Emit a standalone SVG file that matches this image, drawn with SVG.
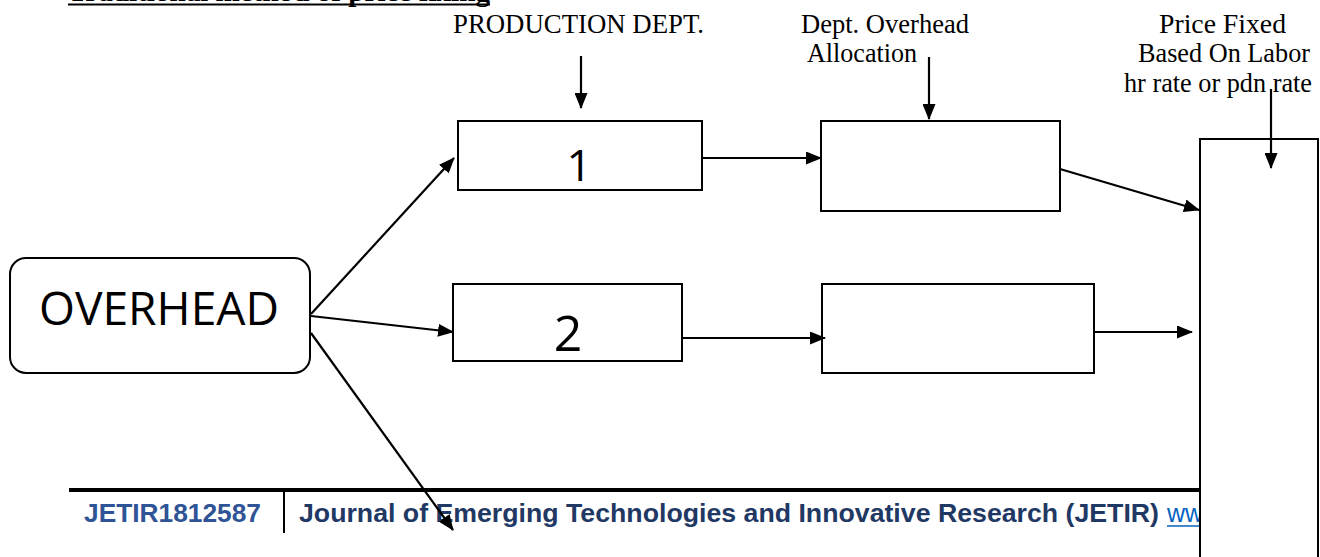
<svg xmlns="http://www.w3.org/2000/svg" width="1320" height="557" viewBox="0 0 1320 557">
<style>
.box{fill:#fff;stroke:#000;stroke-width:2}
.lbl{font-family:"Liberation Serif","Times New Roman",serif;font-size:26.5px;fill:#000}
.big{font-family:"Open Sans","Noto Sans",sans-serif;fill:#000}
.conn{stroke:#000;stroke-width:2.2;fill:none;marker-end:url(#ah)}
.foot{font-family:"Liberation Sans",Arial,sans-serif;font-weight:bold;font-size:25px}
</style>
<defs>
<marker id="ah" viewBox="0 0 16 13" refX="15" refY="6.5" markerWidth="16" markerHeight="13" markerUnits="userSpaceOnUse" orient="auto">
<path d="M0,0 L16,6.5 L0,13 z" fill="#000"/>
</marker>
</defs>
<rect width="1320" height="557" fill="#fff"/>
<g id="title">
<text x="68" y="1" font-family="Liberation Serif,serif" font-weight="bold" font-size="27" textLength="422" lengthAdjust="spacingAndGlyphs">Traditional method of price fixing</text>
<line x1="68" y1="4.5" x2="490" y2="4.5" stroke="#000" stroke-width="2"/>
</g>
<g id="footer">
<line x1="69" y1="490" x2="1199" y2="490" stroke="#000" stroke-width="4"/>
<line x1="284" y1="490" x2="284" y2="533" stroke="#000" stroke-width="2"/>
<text class="foot" x="84" y="522" fill="#2F5496" textLength="177" lengthAdjust="spacingAndGlyphs">JETIR1812587</text>
<text class="foot" x="299" y="522" fill="#1F3864" textLength="860" lengthAdjust="spacingAndGlyphs">Journal of Emerging Technologies and Innovative Research (JETIR)</text>
<text x="1167" y="522" font-family="Liberation Sans,Arial,sans-serif" font-size="25" fill="#0563C1">ww</text>
<line x1="1167" y1="526" x2="1199" y2="526" stroke="#0563C1" stroke-width="1.5"/>
</g>
<g id="labels">
<text class="lbl" x="453" y="33" textLength="251" lengthAdjust="spacingAndGlyphs">PRODUCTION DEPT.</text>
<text class="lbl" x="801" y="33" textLength="168" lengthAdjust="spacingAndGlyphs">Dept. Overhead</text>
<text class="lbl" x="807" y="62" textLength="110" lengthAdjust="spacingAndGlyphs">Allocation</text>
<text class="lbl" x="1159" y="33" textLength="127" lengthAdjust="spacingAndGlyphs">Price Fixed</text>
<text class="lbl" x="1138" y="62" textLength="172" lengthAdjust="spacingAndGlyphs">Based On Labor</text>
<text class="lbl" x="1124" y="92" textLength="188" lengthAdjust="spacingAndGlyphs">hr rate or pdn rate</text>
</g>
<g id="overhead">
<rect class="box" x="10" y="258" width="300" height="115" rx="16"/>
<text class="big" x="39" y="325" font-size="45" textLength="240" lengthAdjust="spacingAndGlyphs">OVERHEAD</text>
</g>
<g id="dept1">
<rect class="box" x="458" y="121" width="244" height="69"/>
<text class="big" x="579" y="181" font-size="44" text-anchor="middle">1</text>
</g>
<g id="dept2">
<rect class="box" x="453" y="284" width="229" height="77"/>
<text class="big" x="568" y="351" font-size="50" text-anchor="middle">2</text>
</g>
<g id="alloc1">
<rect class="box" x="821" y="121" width="239" height="90"/>
</g>
<g id="alloc2">
<rect class="box" x="822" y="284" width="272" height="89"/>
</g>
<g id="price">
<rect class="box" x="1200" y="139" width="118" height="430"/>
</g>
<g id="connectors">
<line class="conn" x1="581" y1="56" x2="581" y2="108"/>
<line class="conn" x1="929" y1="57" x2="929" y2="119"/>
<line class="conn" x1="1271" y1="89" x2="1271" y2="168"/>
<line class="conn" x1="311" y1="314" x2="454" y2="158"/>
<line class="conn" x1="311" y1="316" x2="453" y2="332"/>
<line class="conn" x1="311" y1="333" x2="453" y2="530"/>
<line class="conn" x1="702" y1="158" x2="821" y2="158"/>
<line class="conn" x1="682" y1="338" x2="825" y2="338"/>
<line class="conn" x1="1060" y1="169" x2="1199" y2="210"/>
<line class="conn" x1="1094" y1="332" x2="1192" y2="332"/>
</g>
</svg>
